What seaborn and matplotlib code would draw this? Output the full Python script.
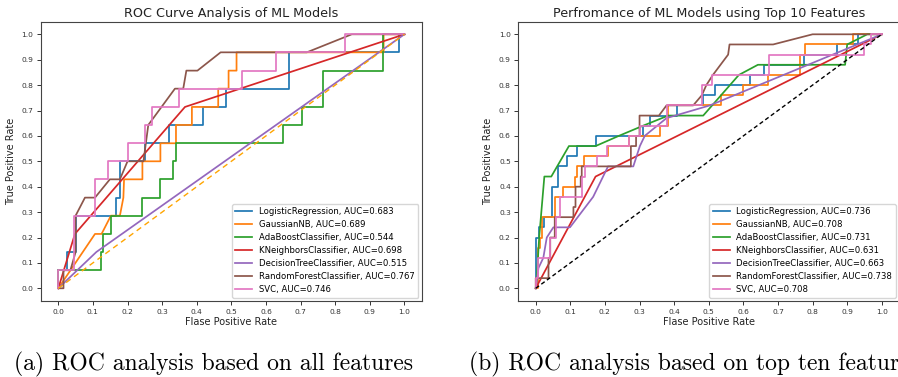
import numpy as np
import pandas as pd
import matplotlib
matplotlib.use("Agg")
import matplotlib.pyplot as plt
import seaborn as sns

# ---------------- data ----------------
models = ["LogisticRegression", "GaussianNB", "AdaBoostClassifier", "KNeighborsClassifier",
          "DecisionTreeClassifier", "RandomForestClassifier", "SVC"]

auc_all = [0.683, 0.689, 0.544, 0.698, 0.515, 0.767, 0.746]
auc_top = [0.736, 0.708, 0.731, 0.631, 0.663, 0.738, 0.708]

# --- (a) all features ---
lr_a_fpr = [0, 0, 0.024, 0.024, 0.05, 0.05, 0.167, 0.167, 0.177, 0.177, 0.25, 0.25, 0.32, 0.32, 0.417, 0.417, 0.485, 0.485, 0.666, 0.666, 0.983, 0.983, 1]
lr_a_tpr = [0, 0.071, 0.071, 0.143, 0.143, 0.286, 0.286, 0.357, 0.357, 0.5, 0.5, 0.571, 0.571, 0.643, 0.643, 0.714, 0.714, 0.786, 0.786, 0.929, 0.929, 1, 1]

gnb_a_fpr = [0, 0.106, 0.125, 0.152, 0.178, 0.188, 0.19, 0.243, 0.243, 0.295, 0.295, 0.34, 0.34, 0.386, 0.386, 0.462, 0.462, 0.492, 0.492, 0.515, 0.515, 0.94, 0.94, 1]
gnb_a_tpr = [0, 0.214, 0.214, 0.286, 0.286, 0.357, 0.429, 0.429, 0.5, 0.5, 0.571, 0.571, 0.643, 0.643, 0.714, 0.714, 0.786, 0.786, 0.857, 0.857, 0.929, 0.929, 1, 1]

ada_a_fpr = [0, 0, 0.122, 0.122, 0.13, 0.13, 0.152, 0.152, 0.243, 0.243, 0.294, 0.294, 0.332, 0.332, 0.34, 0.34, 0.65, 0.65, 0.703, 0.703, 0.764, 0.764, 0.939, 0.939, 1]
ada_a_tpr = [0, 0.071, 0.071, 0.143, 0.143, 0.214, 0.214, 0.286, 0.286, 0.357, 0.357, 0.429, 0.429, 0.5, 0.5, 0.571, 0.571, 0.643, 0.643, 0.714, 0.714, 0.857, 0.857, 1, 1]

knn_a_fpr = [0, 0.048, 0.366, 1]
knn_a_tpr = [0, 0.214, 0.714, 1]

dt_a_fpr = [0, 0.11, 1]
dt_a_tpr = [0, 0.143, 1]

rf_a_fpr = [0, 0.015, 0.015, 0.035, 0.05, 0.05, 0.077, 0.106, 0.149, 0.178, 0.2, 0.246, 0.253, 0.26, 0.337, 0.361, 0.37, 0.402, 0.469, 0.718, 0.848, 1]
rf_a_tpr = [0, 0, 0.071, 0.071, 0.143, 0.286, 0.357, 0.357, 0.429, 0.429, 0.5, 0.5, 0.571, 0.643, 0.786, 0.786, 0.857, 0.857, 0.929, 0.929, 1, 1]

svc_a_fpr = [0, 0, 0.045, 0.045, 0.106, 0.106, 0.144, 0.144, 0.2, 0.2, 0.25, 0.25, 0.272, 0.272, 0.35, 0.35, 0.53, 0.53, 0.629, 0.629, 0.827, 0.827, 1]
svc_a_tpr = [0, 0.071, 0.071, 0.286, 0.286, 0.429, 0.429, 0.5, 0.5, 0.571, 0.571, 0.643, 0.643, 0.714, 0.714, 0.786, 0.786, 0.857, 0.857, 0.929, 0.929, 1, 1]

# --- (b) top ten features ---
lr_b_fpr = [0, 0, 0.01, 0.01, 0.025, 0.025, 0.046, 0.046, 0.064, 0.064, 0.089, 0.089, 0.118, 0.118, 0.173, 0.173, 0.31, 0.31, 0.33, 0.33, 0.407, 0.407, 0.484, 0.484, 0.518, 0.518, 0.62, 0.62, 0.66, 0.66, 0.774, 0.774, 0.872, 0.872, 0.93, 0.93, 1]
lr_b_tpr = [0, 0.2, 0.2, 0.24, 0.24, 0.28, 0.28, 0.4, 0.4, 0.48, 0.48, 0.52, 0.52, 0.56, 0.56, 0.6, 0.6, 0.64, 0.64, 0.68, 0.68, 0.72, 0.72, 0.76, 0.76, 0.8, 0.8, 0.84, 0.84, 0.88, 0.88, 0.92, 0.92, 0.96, 0.96, 1, 1]

gnb_b_fpr = [0, 0.006, 0.006, 0.013, 0.013, 0.017, 0.017, 0.056, 0.056, 0.078, 0.078, 0.113, 0.113, 0.12, 0.12, 0.14, 0.14, 0.208, 0.208, 0.27, 0.27, 0.36, 0.36, 0.383, 0.383, 0.536, 0.536, 0.599, 0.599, 0.671, 0.671, 0.765, 0.765, 0.777, 0.777, 0.916, 0.916, 1]
gnb_b_tpr = [0, 0, 0.16, 0.16, 0.2, 0.2, 0.28, 0.28, 0.36, 0.36, 0.4, 0.4, 0.44, 0.44, 0.48, 0.48, 0.52, 0.52, 0.56, 0.56, 0.6, 0.6, 0.64, 0.64, 0.72, 0.72, 0.76, 0.76, 0.8, 0.8, 0.84, 0.84, 0.92, 0.92, 0.96, 0.96, 1, 1]

ada_b_fpr = [0, 0.003, 0.01, 0.025, 0.045, 0.096, 0.173, 0.24, 0.31, 0.383, 0.484, 0.587, 0.642, 0.894, 0.9, 0.958, 1]
ada_b_tpr = [0, 0.04, 0.2, 0.44, 0.44, 0.56, 0.56, 0.6, 0.64, 0.68, 0.68, 0.84, 0.88, 0.88, 0.96, 1, 1]

knn_b_fpr = [0, 0.173, 1]
knn_b_tpr = [0, 0.44, 1]

dt_b_fpr = [0, 0.008, 0.022, 0.032, 0.051, 0.099, 0.166, 0.209, 0.282, 0.301, 0.315, 0.378, 0.503, 1]
dt_b_tpr = [0, 0.08, 0.12, 0.2, 0.24, 0.24, 0.36, 0.48, 0.48, 0.56, 0.6, 0.67, 0.72, 1]

rf_b_fpr = [0, 0, 0.037, 0.037, 0.042, 0.042, 0.055, 0.055, 0.109, 0.109, 0.115, 0.115, 0.13, 0.13, 0.133, 0.133, 0.275, 0.275, 0.29, 0.29, 0.3, 0.3, 0.356, 0.378, 0.455, 0.48, 0.493, 0.512, 0.556, 0.56, 0.686, 0.8, 1]
rf_b_tpr = [0, 0.04, 0.04, 0.12, 0.12, 0.2, 0.2, 0.28, 0.28, 0.32, 0.32, 0.4, 0.4, 0.44, 0.44, 0.48, 0.48, 0.56, 0.56, 0.6, 0.6, 0.68, 0.68, 0.72, 0.72, 0.76, 0.8, 0.84, 0.92, 0.96, 0.96, 1, 1]

svc_b_fpr = [0, 0, 0.008, 0.008, 0.041, 0.041, 0.06, 0.06, 0.07, 0.07, 0.133, 0.133, 0.142, 0.142, 0.176, 0.176, 0.205, 0.205, 0.27, 0.27, 0.3, 0.3, 0.378, 0.378, 0.48, 0.48, 0.508, 0.508, 0.673, 0.673, 0.95, 0.95, 0.97, 0.97, 1]
svc_b_tpr = [0, 0.04, 0.04, 0.12, 0.12, 0.2, 0.2, 0.28, 0.28, 0.36, 0.36, 0.44, 0.44, 0.48, 0.48, 0.52, 0.52, 0.56, 0.56, 0.6, 0.6, 0.64, 0.64, 0.72, 0.72, 0.8, 0.8, 0.84, 0.84, 0.92, 0.92, 0.96, 0.96, 1, 1]

curves_a = [(lr_a_fpr, lr_a_tpr), (gnb_a_fpr, gnb_a_tpr), (ada_a_fpr, ada_a_tpr), (knn_a_fpr, knn_a_tpr),
            (dt_a_fpr, dt_a_tpr), (rf_a_fpr, rf_a_tpr), (svc_a_fpr, svc_a_tpr)]
curves_b = [(lr_b_fpr, lr_b_tpr), (gnb_b_fpr, gnb_b_tpr), (ada_b_fpr, ada_b_tpr), (knn_b_fpr, knn_b_tpr),
            (dt_b_fpr, dt_b_tpr), (rf_b_fpr, rf_b_tpr), (svc_b_fpr, svc_b_tpr)]

titles = ["ROC Curve Analysis of ML Models", "Perfromance of ML Models using Top 10 Features"]
captions = ["(a) ROC analysis based on all features", "(b) ROC analysis based on top ten features"]
ticks = [0.0, 0.1, 0.2, 0.3, 0.4, 0.5, 0.6, 0.7, 0.8, 0.9, 1.0]


def build_df(curves, aucs):
    rows = []
    for name, auc, (f, t) in zip(models, aucs, curves):
        lab = f"{name}, AUC={auc:.3f}"
        for i, (x, y) in enumerate(zip(f, t)):
            rows.append({"label": lab, "fpr": x, "tpr": y, "order": i})
    return pd.DataFrame(rows)


W, H = 898, 377
fig = plt.figure(figsize=(W / 100, H / 100), dpi=100)
fig.patch.set_facecolor("white")

ax_lefts = [41.0, 518.4]
ax_w = 380.7
ax_top, ax_bot = 21.6, 301.0
palette = sns.color_palette("tab10", 7)

for k, (curves, aucs) in enumerate([(curves_a, auc_all), (curves_b, auc_top)]):
    ax = fig.add_axes([ax_lefts[k] / W, 1 - ax_bot / H, ax_w / W, (ax_bot - ax_top) / H])
    df = build_df(curves, aucs)
    sns.lineplot(data=df, x="fpr", y="tpr", hue="label", sort=False, estimator=None,
                 palette=palette, linewidth=1.25, ax=ax)
    handles, labels = ax.get_legend_handles_labels()
    if k == 0:
        ax.plot([0, 1], [0, 1], color="orange", linestyle="--", linewidth=1.0, dashes=(4, 3))
    else:
        ax.plot([0, 1], [0, 1], color="black", linestyle="--", linewidth=1.0, dashes=(3, 2))
    ax.legend(handles, labels, loc="lower right", fontsize=6.1, frameon=True,
              borderaxespad=0.4, handlelength=2.0, labelspacing=0.47)
    ax.set_xlim(-0.05, 1.05)
    ax.set_ylim(-0.05, 1.05)
    ax.set_xticks(ticks)
    ax.set_yticks(ticks)
    ax.set_xticklabels([f"{t:.1f}" for t in ticks])
    ax.set_yticklabels([f"{t:.1f}" for t in ticks])
    ax.tick_params(labelsize=5.4, length=3, width=0.7, colors="#333333", pad=2.5)
    ax.set_xlabel("Flase Positive Rate", fontsize=7, labelpad=2, color="#222222")
    ax.set_ylabel("True Positive Rate", fontsize=7, labelpad=4, color="#222222")
    ax.set_title(titles[k], fontsize=9.2, pad=3.5, color="#222222")
    for s in ax.spines.values():
        s.set_linewidth(0.8)
        s.set_color("#444444")

fig.text(14 / W, 1 - 370 / H, captions[0], fontfamily="cmr10", fontsize=17, va="baseline", ha="left")
fig.text(469 / W, 1 - 370 / H, captions[1], fontfamily="cmr10", fontsize=17, va="baseline", ha="left")

fig.savefig("out.png", dpi=100, facecolor="white")
